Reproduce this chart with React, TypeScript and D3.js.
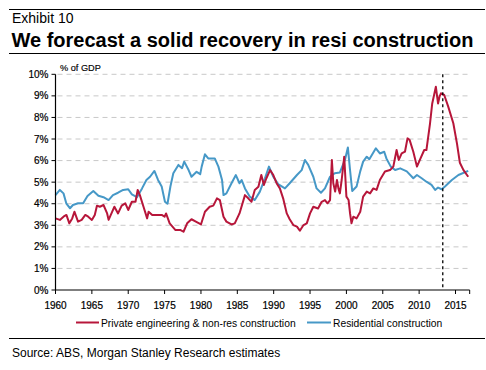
import React from "react";
import * as d3 from "d3";

const resYears = [1960.0,1960.6,1961.1,1961.5,1962.0,1962.4,1963.1,1963.8,1964.4,1965.2,1965.9,1966.6,1967.3,1967.9,1968.6,1969.3,1970.0,1970.5,1971.2,1971.9,1972.5,1973.0,1973.6,1974.1,1974.6,1975.05,1975.4,1975.8,1976.2,1976.9,1977.4,1977.7,1978.3,1978.7,1979.4,1979.9,1980.1,1980.55,1981.0,1981.9,1982.4,1982.9,1983.1,1983.5,1984.2,1984.8,1985.3,1985.6,1986.05,1986.7,1987.4,1988.1,1988.8,1989.35,1989.95,1990.6,1991.55,1992.2,1993.2,1993.85,1994.3,1994.75,1995.45,1995.9,1996.5,1997.05,1997.75,1998.4,1999.1,1999.8,2000.2,2000.5,2000.8,2001.4,2001.9,2002.3,2002.8,2003.15,2003.5,2004.05,2004.6,2005.2,2005.5,2006.1,2006.7,2007.4,2008.3,2009.2,2009.7,2010.35,2011.0,2011.7,2012.2,2012.6,2013.1,2013.55,2014.5,2015.4,2016.75];
const resValues = [4.40,4.64,4.48,4.00,3.79,3.94,4.02,4.02,4.36,4.59,4.37,4.30,4.17,4.40,4.51,4.64,4.67,4.43,4.30,4.71,5.10,5.25,5.52,5.10,4.80,4.09,4.00,4.80,5.41,5.80,5.65,5.95,5.56,5.25,5.48,5.37,5.72,6.29,6.10,6.10,5.72,5.10,4.40,4.48,4.95,5.33,4.95,5.10,4.71,4.33,4.17,4.56,5.18,5.72,5.25,4.91,4.71,4.95,5.33,5.56,6.03,5.80,5.25,4.71,4.51,4.71,5.25,5.41,5.45,6.03,6.61,5.56,4.59,4.80,5.50,5.95,6.18,6.06,6.26,6.57,6.33,6.41,6.10,5.72,5.56,5.64,5.50,5.18,5.33,5.18,5.02,4.87,4.64,4.75,4.67,4.80,5.10,5.33,5.52];

const engYears = [1960.0,1960.6,1961.1,1961.5,1961.9,1962.3,1962.6,1963.1,1963.6,1964.1,1964.5,1965.0,1965.4,1965.7,1966.1,1966.6,1967.1,1967.3,1967.8,1968.1,1968.6,1969.1,1969.6,1970.0,1970.5,1971.0,1971.3,1971.6,1972.1,1972.6,1972.8,1973.3,1973.9,1974.6,1975.0,1975.2,1975.7,1976.5,1977.2,1977.6,1978.1,1978.7,1979.3,1980.0,1980.55,1981.2,1981.7,1982.2,1982.6,1983.1,1983.5,1984.2,1984.65,1985.3,1986.05,1986.5,1986.95,1987.4,1987.9,1988.3,1988.65,1989.0,1989.5,1989.95,1990.4,1990.85,1991.3,1991.8,1992.2,1992.7,1993.2,1993.6,1994.1,1994.55,1995.0,1995.45,1996.1,1996.6,1997.05,1997.4,1997.75,1998.0,1998.2,1998.45,1998.7,1998.9,1999.1,1999.35,1999.6,1999.7,2000.0,2000.3,2000.5,2000.7,2000.95,2001.4,2001.9,2002.3,2002.8,2003.25,2003.7,2004.15,2004.6,2005.3,2006.0,2006.45,2006.9,2007.2,2007.6,2008.05,2008.4,2008.7,2009.2,2009.7,2010.1,2010.7,2011.0,2011.5,2011.8,2012.3,2012.6,2012.8,2013.0,2013.45,2014.0,2014.7,2015.2,2015.6,2016.1,2016.75];
const engValues = [3.32,3.25,3.40,3.48,3.09,3.32,3.63,3.17,3.25,3.48,3.40,3.25,3.48,3.91,3.86,3.94,3.55,3.25,3.63,3.86,3.55,3.91,4.02,3.71,4.09,4.09,4.64,4.40,3.86,3.32,3.63,3.48,3.48,3.48,3.40,3.55,3.09,2.78,2.78,2.70,3.09,3.28,3.17,3.04,3.63,3.86,3.91,4.25,4.17,3.40,3.17,3.04,3.09,3.55,4.40,4.25,4.09,4.64,4.79,5.33,4.87,5.18,5.56,5.33,4.95,4.71,4.25,3.55,3.28,3.01,2.94,2.75,3.01,3.09,3.55,3.86,3.78,4.09,4.17,4.02,4.17,6.03,4.95,4.56,5.10,4.71,4.48,5.10,5.87,6.18,4.33,4.17,3.55,3.09,3.40,3.32,3.63,4.33,4.56,4.48,4.71,4.64,5.10,5.49,5.56,5.72,6.49,6.03,6.33,6.41,7.03,6.95,6.41,5.72,6.03,6.49,6.49,7.73,8.65,9.42,8.65,8.96,9.12,9.04,8.50,7.73,6.80,5.90,5.56,5.25];

const yTicks = [0,1,2,3,4,5,6,7,8,9,10];
const xTicks = [1960,1965,1970,1975,1980,1985,1990,1995,2000,2005,2010,2015];
const forecastYear = 2013.25;
const seriesNames = ["Private engineering & non-res construction", "Residential construction"];
const RED = "#B7163A";
const BLUE = "#4698C7";
const FONT = "'Liberation Sans', Arial, sans-serif";

export default function App() {
  const W = 486, H = 370;
  const x = d3.scaleLinear().domain([1960, 2015]).range([55.5, 455.5]);
  const y = d3.scaleLinear().domain([0, 10]).range([290, 74.3]);
  const xEnd = x(2016.95);
  const line = d3.line<[number, number]>().x(d => x(d[0])).y(d => y(d[1])).curve(d3.curveLinear);
  const eng = engYears.map((t, i) => [t, engValues[i]] as [number, number]);
  const res = resYears.map((t, i) => [t, resValues[i]] as [number, number]);

  return (
    <svg width={W} height={H} style={{ position: "absolute", left: 0, top: 0 }} fontFamily={FONT}>
      <rect width={W} height={H} fill="#fff" />
      <line x1={9} x2={485} y1={9.5} y2={9.5} stroke="#000" strokeWidth={1.2} />
      <text x={12} y={23} fontSize={14} fill="#000">Exhibit 10</text>
      <text x={11.5} y={47} fontSize={20} fontWeight="bold" fill="#000">We forecast a solid recovery in resi construction</text>
      <line x1={9} x2={485} y1={53.5} y2={53.5} stroke="#000" strokeWidth={1.2} />

      {yTicks.filter(v => v > 0).map(v => (
        <line key={"g" + v} x1={x(1960) + 2} x2={xEnd - 2} y1={y(v)} y2={y(v)} stroke="#c8c8c8" strokeWidth={1} strokeDasharray="5,4" />
      ))}
      {yTicks.map(v => (
        <g key={"y" + v}>
          <line x1={x(1960) - 4} x2={x(1960)} y1={y(v)} y2={y(v)} stroke="#000" />
          <text x={48.5} y={y(v) + 3.6} fontSize={10} textAnchor="end" fill="#000" stroke="#000" strokeWidth={0.2}>{v + "%"}</text>
        </g>
      ))}
      <text x={60} y={70.5} fontSize={9.2} fill="#000" stroke="#000" strokeWidth={0.15}>% of GDP</text>

      <path d={line(res) || ""} fill="none" stroke={BLUE} strokeWidth={2} strokeLinejoin="round" />
      <path d={line(eng) || ""} fill="none" stroke={RED} strokeWidth={2} strokeLinejoin="round" />

      <line x1={x(forecastYear)} x2={x(forecastYear)} y1={y(10)} y2={y(0)} stroke="#000" strokeWidth={1.3} strokeDasharray="3,3" />

      <line x1={x(1960)} x2={x(1960)} y1={y(10)} y2={y(0)} stroke="#000" strokeWidth={1.2} />
      <line x1={x(1960)} x2={xEnd} y1={y(0)} y2={y(0)} stroke="#000" strokeWidth={1.2} />
      {xTicks.map(t => (
        <g key={"x" + t}>
          <line x1={x(t)} x2={x(t)} y1={y(0)} y2={y(0) + 4} stroke="#000" />
          <text x={x(t)} y={309} fontSize={10} textAnchor="middle" fill="#000" stroke="#000" strokeWidth={0.2}>{t}</text>
        </g>
      ))}
      <line x1={xEnd} x2={xEnd} y1={y(0)} y2={y(0) + 4} stroke="#000" />

      <line x1={76} x2={99} y1={322.5} y2={322.5} stroke={RED} strokeWidth={2} />
      <text x={101} y={326.5} fontSize={10.3} fill="#000">{seriesNames[0]}</text>
      <line x1={307} x2={331} y1={322.5} y2={322.5} stroke={BLUE} strokeWidth={2} />
      <text x={333} y={326.5} fontSize={10.3} fill="#000">{seriesNames[1]}</text>

      <line x1={9} x2={485} y1={338.5} y2={338.5} stroke="#000" strokeWidth={1.2} />
      <text x={12} y={357} fontSize={12} fill="#000">Source: ABS, Morgan Stanley Research estimates</text>
    </svg>
  );
}
